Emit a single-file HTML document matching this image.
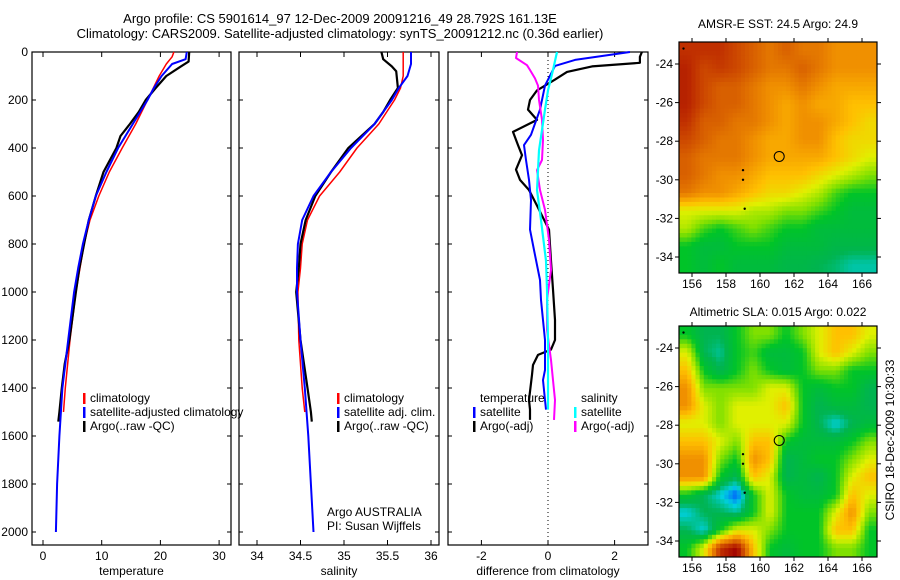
<!DOCTYPE html>
<html><head><meta charset="utf-8"><style>
html,body{margin:0;padding:0;background:#fff;}
svg{display:block;font-family:"Liberation Sans",sans-serif;}
text{font-size:12px;fill:#000;}
</style></head><body>
<svg id="c" width="900" height="580" viewBox="0 0 900 580">
<text x="340" y="23" text-anchor="middle" style="font-size:13px">Argo profile: CS 5901614_97 12-Dec-2009 20091216_49 28.792S 161.13E</text>
<text x="340" y="38" text-anchor="middle" style="font-size:13px">Climatology: CARS2009. Satellite-adjusted climatology: synTS_20091212.nc (0.36d earlier)</text>
<text x="778" y="28" text-anchor="middle">AMSR-E SST: 24.5 Argo: 24.9</text>
<text x="778" y="316" text-anchor="middle">Altimetric SLA: 0.015 Argo: 0.022</text>
<text x="0" y="0" transform="translate(894,440) rotate(-90)" text-anchor="middle">CSIRO 18-Dec-2009 10:30:33</text>
</svg>
<script>
// ---- data ----
const depthTicks=[0,200,400,600,800,1000,1200,1400,1600,1800,2000];
const tempTicks=[0,10,20,30];
const salTicks=[34,34.5,35,35.5,36];
const diffTicks=[-2,0,2];
const lonTicks=[156,158,160,162,164,166];
const latTicks=[-24,-26,-28,-30,-32,-34];

const tClimDepth=[0,20,50,100,150,200,300,400,500,600,700,800,900,1000,1200,1400,1500];
const tClim=[22.3,22,21,19.8,18.8,17.8,15.8,13.5,11.3,9.5,8.0,7.0,6.3,5.6,4.6,3.8,3.5];
const tSatDepth=[0,30,50,100,150,200,300,400,500,600,700,800,900,1000,1200,1400,1600,1800,2000];
const tSat=[24.5,24.3,22,20.2,18.9,17.8,15.3,12.8,10.8,9.0,7.8,6.8,6.0,5.3,4.3,3.3,2.8,2.4,2.2];
const tArgoDepth=[0,40,60,100,150,200,250,300,350,400,500,600,700,800,900,1000,1200,1300,1400,1500,1540];
const tArgo=[24.9,24.8,23.5,21.0,19.2,17.5,16.3,14.8,13.2,12.5,10.3,9.0,7.8,7.0,6.2,5.6,4.5,3.7,3.2,2.8,2.6];

const sClimDepth=[0,100,150,200,300,400,500,600,700,800,900,1000,1200,1400,1500];
const sClim=[35.68,35.68,35.65,35.58,35.4,35.15,34.95,34.72,34.58,34.52,34.5,34.47,34.48,34.52,34.55];
const sSatDepth=[0,50,100,150,200,300,400,500,600,700,800,900,1000,1200,1400,1600,1800,2000];
const sSat=[35.77,35.77,35.73,35.63,35.55,35.35,35.08,34.85,34.65,34.52,34.47,34.46,34.46,34.5,34.55,34.59,34.62,34.65];
const sArgoDepth=[0,30,60,80,150,200,250,300,400,500,600,700,800,900,1000,1200,1400,1500,1540];
const sArgo=[35.43,35.45,35.55,35.6,35.62,35.53,35.45,35.35,35.05,34.85,34.67,34.56,34.5,34.48,34.45,34.5,34.58,34.62,34.63];

const dTArgoDepth=[0,20,45,60,83,115,160,200,240,283,333,388,430,490,533,575,640,740,870,990,1117,1200,1240,1262,1304,1345,1450,1490,1533];
const dTArgo=[2.82,2.76,2.76,1.32,0.57,0.21,-0.33,-0.54,-0.6,-0.33,-1.05,-0.9,-0.78,-0.96,-0.84,-0.57,-0.33,0.03,0.09,0.15,0.21,0.21,0.09,-0.3,-0.45,-0.48,-0.57,-0.54,-0.54];
const dTSatDepth=[0,33,58,140,240,345,388,450,533,617,740,825,950,1033,1117,1200,1325,1367,1450,1490];
const dTSat=[2.46,0.81,0.21,-0.09,-0.24,-0.51,-0.72,-0.66,-0.57,-0.51,-0.54,-0.42,-0.24,-0.21,-0.15,-0.09,-0.09,-0.15,-0.09,-0.06];
const dSSatDepth=[0,75,160,240,410,575,700,870,990,1200,1490];
const dSSat=[0.27,0.15,0,-0.09,-0.27,-0.33,-0.21,-0.06,-0.03,0,0];
const dSArgoDepth=[0,25,55,75,110,140,200,283,367,450,492,575,658,783,908,1033,1158,1283,1367,1450,1533];
const dSArgo=[-0.93,-0.96,-0.63,-0.54,-0.39,-0.3,-0.27,-0.18,-0.15,-0.18,-0.33,-0.24,-0.09,0.03,0.09,-0.03,-0.03,0.09,0.15,0.21,0.18];

const sstGrid=[
[9,9,9,8.5,8,7.5,8,7.5,7.5,7,7,7],
[9.3,8.5,8.8,8.5,8,7.5,7.5,8,7.5,7,7,7],
[9.3,8.5,8,8,7.5,7,7,7.5,7,6.5,6.5,6.5],
[9.3,8.5,8,8,7.5,7,6.5,7,6.5,6.5,6,6],
[9,8,8,7.5,7.5,7,6.5,7,7,6.5,6,5.5],
[8.5,8,7.5,7.5,7,6.5,6.5,7,7,6,5.5,5.5],
[8,7.5,7.5,7.5,7,6.5,6.5,6.5,6.5,6,5.5,5],
[8,7.5,7,7,6.5,6,6,6,5.5,5,4.5,4],
[7.5,7,7,6.5,6,5.5,5.5,5,4.5,3.5,3,3],
[5,5,5,5,4.5,4.5,4,4,3.5,3,2.5,2.5],
[4.5,3.5,3,3.5,4,3.5,3,3,2.5,2.5,2.5,2.5],
[3,2.5,2.5,3,3,3,2.5,2.5,2.5,2.2,2.2,2.2],
[3,2.5,3,2.5,2.5,2.5,2.2,2.2,2,1.8,1.4,1.4]];
const slaGrid=[
[3,2,2,3,4,4,3,4,5,6,6,5],
[5,2,1.5,3,3.5,2.5,2.5,3,5,6,5,4],
[6,3,2,3,4,3,2.5,3,4,4,3,3],
[7,4,4,4,4,5,5,3,2.5,3,3,2],
[7,5,4,5,5,5,6,3,2,2.5,2.5,2],
[5,5,4,5,5,5,5,3,2,1,2,2.5],
[6,6,5,4,6,6,3,2.5,2.5,2.5,3,4],
[7,7,4,3,7,6,2,2.5,3,3,4,5],
[7,7,3,2,6,5,2,2.5,2,3,5,6],
[3,2,1,0,3,5,3,2.5,2.5,3,6,5],
[1,2,2,1.5,3,5,3,3,3,5,7,4],
[2,1,3,5,5,4,3,3,3,6,6,3],
[3,5,9,10,6,3,2.5,3,3,4,4,3]];
const argoLon=161.13, argoLat=-28.79;
const dotLon=[155.5,159,159,159.1], dotLat=[-23.2,-29.5,-30,-31.5];

// ---- drawing ----
const svg=document.getElementById('c');
const NS='http://www.w3.org/2000/svg';
function mk(tag,attrs,parent){const e=document.createElementNS(NS,tag);for(const k in attrs)e.setAttribute(k,attrs[k]);(parent||svg).appendChild(e);return e;}
const Y0=52,Y1=545;
const yD=d=>52+d*0.24;
function panel(name,x0,x1,xs,ticks,label,showY){
  const g=mk('g',{});
  
  
  const r=mk('rect',{x:x0,y:Y0,width:x1-x0,height:Y1-Y0,fill:'none',stroke:'#000','stroke-width':1.2},g);
  
  
  ticks.forEach(t=>{const x=xs(t);
    mk('line',{x1:x,x2:x,y1:Y1,y2:Y1-5,stroke:'#000'},g);
    mk('line',{x1:x,x2:x,y1:Y0,y2:Y0+5,stroke:'#000'},g);
    const tx=mk('text',{x:x,y:Y1+15,'text-anchor':'middle'},g);tx.textContent=t;
    
    
  });
  depthTicks.forEach(d=>{const y=yD(d);
    mk('line',{x1:x0,x2:x0+4,y1:y,y2:y,stroke:'#000'},g);
    mk('line',{x1:x1,x2:x1-4,y1:y,y2:y,stroke:'#000'},g);
    if(showY){const tx=mk('text',{x:28,y:y+4,'text-anchor':'end'},g);tx.textContent=d;
      
      }
  });
  const lt=mk('text',{x:(x0+x1)/2,y:575,'text-anchor':'middle'},g);lt.textContent=label;
  
  
  return g;
}
function line(g,depths,vals,xs,color,w,name){
  const p=depths.map((d,i)=>(i?'L':'M')+xs(vals[i]).toFixed(1)+','+yD(d).toFixed(1)).join('');
  const e=mk('path',{d:p,fill:'none',stroke:color,'stroke-width':w,'stroke-linejoin':'round'},g);
  
  
}
function legend(g,x,y,items){
  items.forEach((it,i)=>{
    const yy=y+i*14;
    if(it[1]){const m=mk('rect',{x:x,y:yy-9,width:2.5,height:11,fill:it[1]},g);
      
      }
    const t=mk('text',{x:x+7,y:yy},g);t.textContent=it[0];
    
    
  });
}
// temperature
const xT=v=>43+v*5.87;
const g1=panel('temperature-panel',32,231,xT,tempTicks,'temperature',true);
line(g1,tClimDepth,tClim,xT,'#f00',1.5,'temp-climatology-line');
line(g1,tArgoDepth,tArgo,xT,'#000',2.2,'temp-argo-line');
line(g1,tSatDepth,tSat,xT,'#00f',2,'temp-satellite-line');
legend(g1,83,402,[['climatology','#f00'],['satellite-adjusted climatology','#00f'],['Argo(..raw -QC)','#000']]);
// salinity
const xS=v=>257+(v-34)*87;
const g2=panel('salinity-panel',239,439,xS,salTicks,'salinity',false);
line(g2,sClimDepth,sClim,xS,'#f00',1.5,'sal-climatology-line');
line(g2,sArgoDepth,sArgo,xS,'#000',2.2,'sal-argo-line');
line(g2,sSatDepth,sSat,xS,'#00f',2,'sal-satellite-line');
legend(g2,337,402,[['climatology','#f00'],['satellite adj. clim.','#00f'],['Argo(..raw -QC)','#000']]);
const a1=mk('text',{x:327,y:516},g2);a1.textContent='Argo AUSTRALIA';


const a2=mk('text',{x:327,y:530},g2);a2.textContent='PI: Susan Wijffels';


// difference
const xDf=v=>548+v*33.3;
const g3=panel('difference-panel',448,648,xDf,diffTicks,'difference from climatology',false);
const z=mk('line',{x1:xDf(0),x2:xDf(0),y1:Y0,y2:Y1,stroke:'#000','stroke-dasharray':'1,3'},g3);


line(g3,dTArgoDepth,dTArgo,xDf,'#000',2.2,'diff-temp-argo-line');
line(g3,dTSatDepth,dTSat,xDf,'#00f',2,'diff-temp-satellite-line');
line(g3,dSArgoDepth,dSArgo,xDf,'#f0f',2,'diff-sal-argo-line');
line(g3,dSSatDepth,dSSat,xDf,'#0ff',2.2,'diff-sal-satellite-line');
legend(g3,473,402,[['temperature',null],['satellite','#00f'],['Argo(-adj)','#000']]);
legend(g3,574,402,[['salinity',null],['satellite','#0ff'],['Argo(-adj)','#f0f']]);

// maps
const stops=[[0,[0,80,255]],[1,[0,208,224]],[2,[0,180,80]],[3,[0,196,40]],[4,[128,224,0]],[5,[224,240,0]],[6,[255,192,0]],[7,[240,144,0]],[8,[216,96,0]],[9,[192,48,0]],[10,[160,0,0]]];
function cmap(v){v=Math.max(0,Math.min(10,v));const i=Math.min(9,Math.floor(v));const f=v-i;const a=stops[i][1],b=stops[i+1][1];
  return 'rgb('+a.map((c,k)=>Math.round(c+(b[k]-c)*f)).join(',')+')';}
function sample(grid,fr,fc){
  const R=grid.length-1,C=grid[0].length-1;
  fr=Math.max(0,Math.min(R,fr));fc=Math.max(0,Math.min(C,fc));
  const r0=Math.min(R-1,Math.floor(fr)),c0=Math.min(C-1,Math.floor(fc));
  const dr=fr-r0,dc=fc-c0;
  return grid[r0][c0]*(1-dr)*(1-dc)+grid[r0][c0+1]*(1-dr)*dc+grid[r0+1][c0]*dr*(1-dc)+grid[r0+1][c0+1]*dr*dc;
}
function map(name,top,bot,lat24,lat34,grid){
  const x0=679,x1=877;
  const xL=lon=>692+(lon-156)*17;
  const yL=lat=>lat24+(-24-lat)*(lat34-lat24)/10;
  const g=mk('g',{});
  
  
  const rows=grid.length,cols=grid[0].length,S=4;
  const cw=(x1-x0)/(cols*S),ch=(bot-top)/(rows*S);
  for(let r=0;r<rows*S;r++)for(let c=0;c<cols*S;c++){
    const v=sample(grid,(r+0.5)/S-0.5,(c+0.5)/S-0.5);
    const e=mk('rect',{x:(x0+c*cw).toFixed(2),y:(top+r*ch).toFixed(2),width:(cw+0.5).toFixed(2),height:(ch+0.5).toFixed(2),fill:cmap(v)},g);
    
    
  }
  const fr=mk('rect',{x:x0,y:top,width:x1-x0,height:bot-top,fill:'none',stroke:'#000','stroke-width':1.2},g);
  
  
  lonTicks.forEach(l=>{const x=xL(l);
    mk('line',{x1:x,x2:x,y1:bot,y2:bot+4,stroke:'#000'},g);
    mk('line',{x1:x,x2:x,y1:top,y2:top-4,stroke:'#000'},g);
    const t=mk('text',{x:x,y:bot+15,'text-anchor':'middle'},g);t.textContent=l;
    
    });
  latTicks.forEach(l=>{const y=yL(l);
    mk('line',{x1:x0,x2:x0-4,y1:y,y2:y,stroke:'#000'},g);
    mk('line',{x1:x1,x2:x1+4,y1:y,y2:y,stroke:'#000'},g);
    const t=mk('text',{x:673,y:y+4,'text-anchor':'end'},g);t.textContent=String(l);
    
    });
  dotLon.forEach((l,i)=>{const d=mk('circle',{cx:xL(l),cy:yL(dotLat[i]),r:1.2,fill:'#000'},g);
    
    });
  const c=mk('circle',{cx:xL(argoLon),cy:yL(argoLat),r:5,fill:'none',stroke:'#000','stroke-width':1},g);
  
  
}
map('sst-map',42,273,64,257,sstGrid);
map('sla-map',326,557,348,541,slaGrid);
</script>
</body></html>
